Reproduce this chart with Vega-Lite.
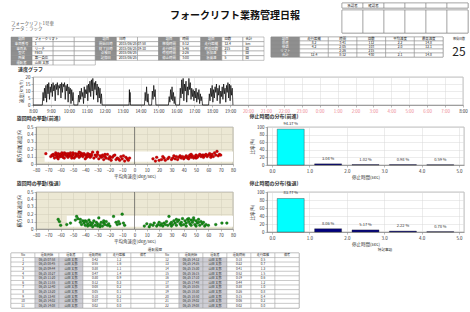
{
"$schema":"https://vega.github.io/schema/vega-lite/v6.json",
"background":"#ffffff",
"padding":{"left":10,"top":2,"right":0,"bottom":0},
"config":{
 "font":"Noto Sans CJK JP",
 "view":{"stroke":"#888","strokeWidth":0.6},
 "axis":{"labelFontSize":4.5,"titleFontSize":4.5,"titleFontWeight":"normal","tickSize":2,"labelPadding":1,"titlePadding":2,"domainColor":"#777","tickColor":"#777","gridColor":"#d9d9d9","gridWidth":0.5,"labelColor":"#333","titleColor":"#333","domainWidth":0.6,"tickWidth":0.5,"labelFlush":false},
 "title":{"fontSize":5,"anchor":"start","frame":"bounds","fontWeight":"bold","color":"#333"}
},
"datasets":{
 "speed":[{"h":8,"v":0},{"h":8.52,"v":0},{"h":8.56,"v":9},{"h":8.6,"v":3},{"h":8.64,"v":12},{"h":8.68,"v":5},{"h":8.72,"v":14},{"h":8.76,"v":2},{"h":8.8,"v":15},{"h":8.84,"v":8},{"h":8.88,"v":16},{"h":8.92,"v":4},{"h":8.96,"v":13},{"h":9,"v":9},{"h":9.04,"v":15},{"h":9.08,"v":6},{"h":9.12,"v":16},{"h":9.16,"v":10},{"h":9.2,"v":14},{"h":9.24,"v":3},{"h":9.28,"v":15},{"h":9.32,"v":11},{"h":9.36,"v":16},{"h":9.4,"v":7},{"h":9.44,"v":14},{"h":9.48,"v":12},{"h":9.52,"v":15},{"h":9.56,"v":5},{"h":9.6,"v":16},{"h":9.64,"v":9},{"h":9.68,"v":15},{"h":9.72,"v":13},{"h":9.76,"v":16},{"h":9.8,"v":4},{"h":9.84,"v":14},{"h":9.88,"v":10},{"h":9.92,"v":15},{"h":9.96,"v":2},{"h":10,"v":13},{"h":10.04,"v":8},{"h":10.08,"v":12},{"h":10.12,"v":1},{"h":10.16,"v":11},{"h":10.2,"v":3},{"h":10.24,"v":9},{"h":10.28,"v":0},
 {"h":10.5,"v":0},{"h":10.54,"v":7},{"h":10.58,"v":2},{"h":10.62,"v":10},{"h":10.66,"v":4},{"h":10.7,"v":12},{"h":10.74,"v":6},{"h":10.78,"v":9},{"h":10.82,"v":1},{"h":10.86,"v":13},{"h":10.9,"v":5},{"h":10.94,"v":11},{"h":10.98,"v":8},{"h":11.02,"v":14},{"h":11.06,"v":3},{"h":11.1,"v":15},{"h":11.14,"v":9},{"h":11.18,"v":17},{"h":11.22,"v":6},{"h":11.26,"v":18},{"h":11.3,"v":10},{"h":11.34,"v":19},{"h":11.38,"v":4},{"h":11.42,"v":16},{"h":11.46,"v":11},{"h":11.5,"v":17},{"h":11.54,"v":7},{"h":11.58,"v":15},{"h":11.62,"v":2},{"h":11.66,"v":13},{"h":11.7,"v":5},{"h":11.74,"v":12},{"h":11.78,"v":1},{"h":11.82,"v":8},{"h":11.86,"v":0},
 {"h":13.36,"v":0},{"h":13.38,"v":11},{"h":13.4,"v":2},{"h":13.42,"v":9},{"h":13.44,"v":0},
 {"h":14.22,"v":0},{"h":14.26,"v":9},{"h":14.3,"v":3},{"h":14.34,"v":13},{"h":14.38,"v":2},{"h":14.42,"v":8},{"h":14.46,"v":0},{"h":14.62,"v":0},{"h":14.66,"v":10},{"h":14.7,"v":4},{"h":14.74,"v":14},{"h":14.78,"v":6},{"h":14.82,"v":11},{"h":14.86,"v":0},
 {"h":15.56,"v":0},{"h":15.6,"v":6},{"h":15.64,"v":2},{"h":15.68,"v":11},{"h":15.72,"v":4},{"h":15.76,"v":13},{"h":15.8,"v":3},{"h":15.84,"v":9},{"h":15.88,"v":1},{"h":15.92,"v":6},{"h":15.96,"v":0},
 {"h":16.18,"v":0},{"h":16.22,"v":12},{"h":16.26,"v":5},{"h":16.3,"v":18},{"h":16.34,"v":8},{"h":16.38,"v":19},{"h":16.42,"v":3},{"h":16.46,"v":15},{"h":16.5,"v":10},{"h":16.54,"v":17},{"h":16.58,"v":2},{"h":16.62,"v":13},{"h":16.66,"v":7},{"h":16.7,"v":19},{"h":16.74,"v":11},{"h":16.78,"v":16},{"h":16.82,"v":4},{"h":16.86,"v":12},{"h":16.9,"v":6},{"h":16.94,"v":11},{"h":16.98,"v":3},{"h":17.02,"v":10},{"h":17.06,"v":5},{"h":17.1,"v":12},{"h":17.14,"v":2},{"h":17.18,"v":9},{"h":17.22,"v":4},{"h":17.26,"v":11},{"h":17.3,"v":1},{"h":17.34,"v":8},{"h":17.38,"v":3},{"h":17.42,"v":6},{"h":17.46,"v":0},
 {"h":17.8,"v":0},{"h":17.84,"v":8},{"h":17.88,"v":3},{"h":17.92,"v":12},{"h":17.96,"v":6},{"h":18,"v":14},{"h":18.04,"v":2},{"h":18.08,"v":11},{"h":18.12,"v":5},{"h":18.16,"v":13},{"h":18.2,"v":9},{"h":18.24,"v":15},{"h":18.28,"v":3},{"h":18.32,"v":12},{"h":18.36,"v":7},{"h":18.4,"v":14},{"h":18.44,"v":1},{"h":18.48,"v":10},{"h":18.52,"v":6},{"h":18.56,"v":13},{"h":18.6,"v":4},{"h":18.64,"v":15},{"h":18.68,"v":8},{"h":18.72,"v":12},{"h":18.76,"v":2},{"h":18.8,"v":14},{"h":18.84,"v":9},{"h":18.88,"v":16},{"h":18.92,"v":5},{"h":18.96,"v":15},{"h":19,"v":3},{"h":19.04,"v":14},{"h":19.08,"v":7},{"h":19.12,"v":12},{"h":19.16,"v":0}],
 "fwd":[{"x":-72,"y":0.14},{"x":-68,"y":0.10},{"x":-67,"y":0.12},{"x":-66,"y":0.13},{"x":-66,"y":0.11},{"x":-65,"y":0.08},{"x":-64,"y":0.15},{"x":-64,"y":0.12},{"x":-63,"y":0.11},{"x":-63,"y":0.09},{"x":-62,"y":0.07},{"x":-62,"y":0.14},{"x":-61,"y":0.13},{"x":-61,"y":0.10},{"x":-60,"y":0.10},{"x":-60,"y":0.13},{"x":-59,"y":0.15},{"x":-59,"y":0.11},{"x":-58,"y":0.12},{"x":-58,"y":0.09},{"x":-57,"y":0.08},{"x":-57,"y":0.15},{"x":-56,"y":0.14},{"x":-56,"y":0.12},{"x":-55,"y":0.11},{"x":-55,"y":0.13},{"x":-54,"y":0.09},{"x":-54,"y":0.14},{"x":-53,"y":0.13},{"x":-53,"y":0.11},{"x":-52,"y":0.15},{"x":-52,"y":0.12},{"x":-51,"y":0.10},{"x":-51,"y":0.08},{"x":-50,"y":0.12},{"x":-50,"y":0.15},{"x":-49,"y":0.08},{"x":-48,"y":0.14},{"x":-48,"y":0.10},{"x":-47,"y":0.11},{"x":-47,"y":0.13},{"x":-46,"y":0.13},{"x":-46,"y":0.12},{"x":-45,"y":0.09},{"x":-45,"y":0.16},{"x":-44,"y":0.15},{"x":-44,"y":0.11},{"x":-43,"y":0.12},{"x":-43,"y":0.14},{"x":-42,"y":0.10},{"x":-42,"y":0.13},{"x":-41,"y":0.14},{"x":-40,"y":0.07},{"x":-40,"y":0.12},{"x":-39,"y":0.12},{"x":-39,"y":0.09},{"x":-38,"y":0.10},{"x":-38,"y":0.14},{"x":-37,"y":0.13},{"x":-36,"y":0.09},{"x":-36,"y":0.12},{"x":-35,"y":0.11},{"x":-35,"y":0.13},{"x":-34,"y":0.16},{"x":-33,"y":0.08},{"x":-32,"y":0.12},{"x":-31,"y":0.10},{"x":-30,"y":0.13},{"x":-30,"y":0.16},{"x":-29,"y":0.07},{"x":-28,"y":0.11},{"x":-27,"y":0.09},{"x":-26,"y":0.12},{"x":-26,"y":0.10},{"x":-25,"y":0.06},{"x":-24,"y":0.10},{"x":-24,"y":0.13},{"x":-23,"y":0.08},{"x":-22,"y":0.13},{"x":-21,"y":0.07},{"x":-20,"y":0.10},{"x":-20,"y":0.08},{"x":-19,"y":0.05},{"x":-18,"y":0.09},{"x":-17,"y":0.11},{"x":-16,"y":0.12},{"x":-15,"y":0.06},{"x":-14,"y":0.08},{"x":-13,"y":0.07},{"x":-12,"y":0.05},{"x":-11,"y":0.10},{"x":-10,"y":0.07},{"x":-9,"y":0.11},{"x":-8,"y":0.04},{"x":-7,"y":0.09},{"x":-6,"y":0.07},{"x":-5,"y":0.05},{"x":-4,"y":0.08},
 {"x":15,"y":0.07},{"x":17,"y":0.04},{"x":18,"y":0.09},{"x":20,"y":0.05},{"x":22,"y":0.06},{"x":23,"y":0.10},{"x":24,"y":0.08},{"x":25,"y":0.05},{"x":27,"y":0.07},{"x":28,"y":0.09},{"x":30,"y":0.06},{"x":31,"y":0.08},{"x":32,"y":0.11},{"x":33,"y":0.07},{"x":34,"y":0.10},{"x":35,"y":0.06},{"x":36,"y":0.09},{"x":37,"y":0.11},{"x":38,"y":0.08},{"x":39,"y":0.10},{"x":40,"y":0.07},{"x":41,"y":0.09},{"x":42,"y":0.11},{"x":43,"y":0.08},{"x":44,"y":0.10},{"x":44,"y":0.07},{"x":45,"y":0.12},{"x":46,"y":0.09},{"x":46,"y":0.13},{"x":47,"y":0.11},{"x":48,"y":0.08},{"x":49,"y":0.10},{"x":50,"y":0.12},{"x":50,"y":0.08},{"x":51,"y":0.09},{"x":52,"y":0.11},{"x":53,"y":0.13},{"x":54,"y":0.10},{"x":55,"y":0.12},{"x":56,"y":0.09},{"x":56,"y":0.12},{"x":57,"y":0.11},{"x":58,"y":0.13},{"x":59,"y":0.10},{"x":60,"y":0.12},{"x":61,"y":0.14},{"x":62,"y":0.11},{"x":62,"y":0.09},{"x":63,"y":0.13},{"x":64,"y":0.10},{"x":65,"y":0.15},{"x":66,"y":0.12},{"x":67,"y":0.17},{"x":68,"y":0.11},{"x":69,"y":0.13},{"x":70,"y":0.12}],
 "bwd":[{"x":-62,"y":0.13},{"x":-61,"y":0.10},{"x":-60,"y":0.05},{"x":-55,"y":0.06},{"x":-52,"y":0.08},{"x":-48,"y":0.12},{"x":-47,"y":0.17},{"x":-46,"y":0.14},{"x":-44,"y":0.09},{"x":-44,"y":0.13},{"x":-43,"y":0.06},{"x":-42,"y":0.11},{"x":-41,"y":0.08},{"x":-40,"y":0.05},{"x":-40,"y":0.11},{"x":-39,"y":0.10},{"x":-38,"y":0.07},{"x":-38,"y":0.04},{"x":-37,"y":0.12},{"x":-36,"y":0.09},{"x":-36,"y":0.05},{"x":-35,"y":0.06},{"x":-34,"y":0.08},{"x":-34,"y":0.03},{"x":-33,"y":0.11},{"x":-32,"y":0.05},{"x":-31,"y":0.09},{"x":-30,"y":0.07},{"x":-30,"y":0.04},{"x":-29,"y":0.15},{"x":-28,"y":0.06},{"x":-28,"y":0.03},{"x":-27,"y":0.09},{"x":-26,"y":0.04},{"x":-25,"y":0.08},{"x":-25,"y":0.11},{"x":-24,"y":0.06},{"x":-23,"y":0.10},{"x":-22,"y":0.05},{"x":-21,"y":0.07},{"x":-20,"y":0.04},{"x":-17,"y":0.17},{"x":-15,"y":0.09},{"x":-14,"y":0.06},{"x":-13,"y":0.10},{"x":-12,"y":0.07},{"x":-10,"y":0.20},{"x":-9,"y":0.08},{"x":-8,"y":0.05},
 {"x":8,"y":0.04},{"x":10,"y":0.07},{"x":12,"y":0.03},{"x":13,"y":0.06},{"x":15,"y":0.05},{"x":16,"y":0.08},{"x":18,"y":0.04},{"x":19,"y":0.06},{"x":20,"y":0.09},{"x":21,"y":0.05},{"x":22,"y":0.07},{"x":23,"y":0.04},{"x":24,"y":0.08},{"x":25,"y":0.06},{"x":26,"y":0.10},{"x":27,"y":0.05},{"x":28,"y":0.17},{"x":29,"y":0.07},{"x":30,"y":0.09},{"x":30,"y":0.04},{"x":31,"y":0.06},{"x":32,"y":0.11},{"x":33,"y":0.08},{"x":34,"y":0.05},{"x":34,"y":0.13},{"x":35,"y":0.10},{"x":36,"y":0.12},{"x":37,"y":0.07},{"x":38,"y":0.09},{"x":38,"y":0.05},{"x":39,"y":0.14},{"x":40,"y":0.06},{"x":41,"y":0.11},{"x":42,"y":0.08},{"x":42,"y":0.04},{"x":43,"y":0.13},{"x":44,"y":0.10},{"x":44,"y":0.14},{"x":45,"y":0.07},{"x":46,"y":0.12},{"x":46,"y":0.05},{"x":47,"y":0.09},{"x":48,"y":0.15},{"x":48,"y":0.12},{"x":49,"y":0.06},{"x":50,"y":0.11},{"x":50,"y":0.04},{"x":51,"y":0.08},{"x":52,"y":0.13},{"x":52,"y":0.09},{"x":53,"y":0.05},{"x":54,"y":0.10},{"x":55,"y":0.07},{"x":56,"y":0.09},{"x":57,"y":0.04},{"x":58,"y":0.06},{"x":60,"y":0.05},{"x":66,"y":0.06},{"x":71,"y":0.08},{"x":75,"y":0.08}]
},
"concat":[
 {"concat":[
 {"concat":[
  {"width":320,"height":28,"view":{"stroke":null},"layer":[
   {"data":{"values":[{"t":"フォークリフト業務管理日報"}]},"mark":{"type":"text","fontSize":10,"fontWeight":"bold","dx":64,"dy":-1,"color":"#111"},"encoding":{"text":{"field":"t"}}},
   {"data":{"values":[{"line":1,"t":"フォークリフト1号車"},{"line":2,"t":"データ：ラック"}]},"mark":{"type":"text","fontSize":4.5,"align":"left","color":"#555"},"encoding":{"x":{"datum":0,"type":"quantitative","scale":{"domain":[0,1]},"axis":null},"y":{"field":"line","type":"quantitative","scale":{"domain":[-3,2.4],"reverse":true},"axis":null},"text":{"field":"t"}}}
  ]},
  {"concat":[
   {"width":126,"height":5,"data":{"values":[{"c":1,"t":"承認者"},{"c":2,"t":"確認者"},{"c":3,"t":""},{"c":4,"t":""},{"c":5,"t":""},{"c":6,"t":""}]},
    "encoding":{"x":{"field":"c","type":"ordinal","scale":{"type":"band","paddingInner":0,"paddingOuter":0},"axis":null}},
    "layer":[{"mark":{"type":"rect","fill":"#ffffff","stroke":"#777","strokeWidth":0.5}},{"mark":{"type":"text","fontSize":3.5,"color":"#333"},"encoding":{"text":{"field":"t"}}}]},
   {"width":126,"height":23,"data":{"values":[{"c":1},{"c":2},{"c":3},{"c":4},{"c":5},{"c":6}]},"mark":{"type":"rect","fill":"#ffffff","stroke":"#777","strokeWidth":0.5},"encoding":{"x":{"field":"c","type":"ordinal","scale":{"type":"band","paddingInner":0,"paddingOuter":0},"axis":null}}}
  ],"columns":1,"spacing":0,"align":"none"}
 ],"columns":2,"spacing":10,"align":"none"},

 {"concat":[
  {"width":253,"height":28,"view":{"stroke":null},
   "data":{"values":[
    {"r":0,"c0":"項目","c1":"フォークリフト","c2":"","c3":"","c4":"項目","c5":"日時","c6":"","c7":"項目","c8":"時間","c9":"項目","c10":"回数","c11":"合計"},
    {"r":1,"c0":"車両番号","c1":"1","c2":"","c3":"","c4":"開始日時","c5":"2015/06/25 07:58","c6":"","c7":"稼働時間","c8":"8:12","c9":"走行距離","c10":"12.4","c11":"km"},
    {"r":2,"c0":"車両名","c1":"リーチ","c2":"","c3":"","c4":"終了日時","c5":"2015/06/25 19:10","c6":"","c7":"走行時間","c8":"5:46","c9":"荷役回数","c10":"215","c11":"回"},
    {"r":3,"c0":"型式","c1":"FB15","c2":"","c3":"","c4":"点検日","c5":"2015/06/25","c6":"","c7":"荷役時間","c8":"2:26","c9":"急加速","c10":"3","c11":"回"},
    {"r":4,"c0":"所属","c1":"第一倉庫","c2":"","c3":"","c4":"記録日","c5":"2015/06/25","c6":"","c7":"停止時間","c8":"3:00","c9":"急減速","c10":"5","c11":"回"},
    {"r":5,"c0":"運転者","c1":"山田 太郎","c2":"","c3":"","c4":"","c5":"","c6":"","c7":"","c8":"","c9":"","c10":"","c11":""}]},
   "transform":[{"fold":["c0","c1","c2","c3","c4","c5","c6","c7","c8","c9","c10","c11"],"as":["key","val"]}],
   "encoding":{
    "x":{"field":"key","type":"nominal","scale":{"type":"band","domain":["c0","c1","c2","c3","c4","c5","c6","c7","c8","c9","c10","c11"],"paddingInner":0,"paddingOuter":0},"axis":null},
    "y":{"field":"r","type":"ordinal","scale":{"type":"band","paddingInner":0,"paddingOuter":0},"axis":null}},
   "layer":[
    {"transform":[{"filter":"datum.r<5||datum.key=='c0'||datum.key=='c1'||datum.key=='c2'||datum.key=='c3'"}],"mark":{"type":"rect","stroke":"#888","strokeWidth":0.5},
     "encoding":{"fill":{"condition":{"test":"datum.key=='c0'||((datum.key=='c4'||datum.key=='c7'||datum.key=='c9')&&datum.r<5)","value":"#8f8f8f"},"value":"#ffffff"}}},
    {"transform":[{"filter":"datum.key=='c0'||((datum.key=='c4'||datum.key=='c7'||datum.key=='c9')&&datum.r<5)"}],"mark":{"type":"text","fontSize":3.4,"color":"#ffffff"},"encoding":{"text":{"field":"val"}}},
    {"transform":[{"filter":"!(datum.key=='c0'||((datum.key=='c4'||datum.key=='c7'||datum.key=='c9')&&datum.r<5))"}],"mark":{"type":"text","fontSize":3.4,"color":"#222","align":"left","dx":-8},"encoding":{"text":{"field":"val"}}}
   ]},
  {"width":172,"height":20,
   "data":{"values":[
    {"r":0,"d0":"項目","d1":"走行距離","d2":"時間","d3":"回数","d4":"平均速度","d5":"最高速度"},
    {"r":1,"d0":"前進","d1":"8.2","d2":"3:41","d3":"112","d4":"2.2","d5":"14.8"},
    {"r":2,"d0":"後退","d1":"4.2","d2":"2:05","d3":"103","d4":"2.0","d5":"12.1"},
    {"r":3,"d0":"リフト","d1":"-","d2":"2:26","d3":"215","d4":"-","d5":"-"},
    {"r":4,"d0":"合計","d1":"12.4","d2":"8:12","d3":"430","d4":"2.1","d5":"14.8"}]},
   "transform":[{"fold":["d0","d1","d2","d3","d4","d5"],"as":["key","val"]}],
   "encoding":{
    "x":{"field":"key","type":"nominal","scale":{"type":"band","domain":["d0","d1","d2","d3","d4","d5"],"paddingInner":0,"paddingOuter":0},"axis":null},
    "y":{"field":"r","type":"ordinal","scale":{"type":"band","paddingInner":0,"paddingOuter":0},"axis":null}},
   "layer":[
    {"mark":{"type":"rect","stroke":"#888","strokeWidth":0.5},"encoding":{"fill":{"condition":{"test":"datum.key=='d0'","value":"#8f8f8f"},"value":"#ffffff"}}},
    {"transform":[{"filter":"datum.key=='d0'"}],"mark":{"type":"text","fontSize":3.4,"color":"#ffffff"},"encoding":{"text":{"field":"val"}}},
    {"transform":[{"filter":"datum.key!='d0'"}],"mark":{"type":"text","fontSize":3.4,"color":"#222"},"encoding":{"text":{"field":"val"}}}
   ]},
  {"concat":[
   {"width":20,"height":4,"data":{"values":[{"t":"稼働日数"}]},"mark":{"type":"text","fontSize":3,"color":"#333"},"encoding":{"text":{"field":"t"}}},
   {"width":20,"height":22,"data":{"values":[{"t":"25"}]},"mark":{"type":"text","fontSize":12,"color":"#222"},"encoding":{"text":{"field":"t"}}}
  ],"columns":1,"spacing":0,"align":"none"}
 ],"columns":3,"spacing":5,"align":"none"}
 ],"columns":1,"spacing":2,"align":"none"},

 {"concat":[
  {"width":1,"height":1,"view":{"stroke":null},"data":{"values":[{"t":""}]},"mark":{"type":"text"},"encoding":{"text":{"field":"t"}}},
  {"width":430,"height":28,
   "title":{"text":"速度グラフ","offset":2},
   "data":{"name":"speed"},
   "mark":{"type":"line","color":"#000000","strokeWidth":0.7},
   "encoding":{
    "x":{"field":"h","type":"quantitative","scale":{"domain":[8,32],"nice":false},"axis":{"values":[8,9,10,11,12,13,14,15,16,17,18,19,20,21,22,23,24,25,26,27,28,29,30,31,32],"labelExpr":"(datum.value % 24) + ':00'","labelColor":{"condition":{"test":"datum.value >= 20 && datum.value < 32","value":"#ee8a95"},"value":"#333"},"grid":true,"title":null,"labelOverlap":false}},
    "y":{"field":"v","type":"quantitative","scale":{"domain":[0,20],"nice":false},"axis":{"values":[0,5,10,15,20],"title":"速度(km/h)","grid":true,"titlePadding":2}}
   }}
 ],"columns":2,"spacing":5,"align":"none"},

 {"concat":[
  {"width":1,"height":1,"view":{"stroke":null},"data":{"values":[{"t":""}]},"mark":{"type":"text"},"encoding":{"text":{"field":"t"}}},
  {"width":197,"height":37,
   "title":{"text":"旋回時の挙動(前進)","offset":3},
   "view":{"fill":"#ECE8D4","stroke":"#888"},
   "encoding":{"x":{"field":"x","type":"quantitative","scale":{"domain":[-80,80],"nice":false},"axis":{"values":[-80,-70,-60,-50,-40,-30,-20,-10,0,10,20,30,40,50,60,70,80],"title":"平均角速度(deg/sec)","grid":true,"gridColor":"#d3cfba","labelOverlap":false}},
     "y":{"field":"y","type":"quantitative","scale":{"domain":[0,0.5],"nice":false},"axis":{"values":[0,0.1,0.2,0.3,0.4,0.5],"labelExpr":"datum.value == 0 ? '0' : format(datum.value, '.1f')","title":"横方向加速度(G)","grid":true,"gridColor":"#d3cfba","titlePadding":5}}},
   "layer":[
    {"data":{"values":[{"x":-73,"xe":80,"y":0.03,"ye":0.17}]},"mark":{"type":"rect","fill":"#ffffff"},"encoding":{"x2":{"field":"xe"},"y2":{"field":"ye"}}},
    {"data":{"values":[{"x":0,"y":0,"ye":0.5}]},"mark":{"type":"rule","color":"#444","strokeWidth":0.6},"encoding":{"y2":{"field":"ye"}}},
    {"data":{"name":"fwd"},"mark":{"type":"circle","size":8,"color":"#d10000","stroke":"#8a0000","strokeWidth":0.3,"opacity":1}}
   ]},
  {"width":5,"height":1,"view":{"stroke":null},"data":{"values":[{"t":""}]},"mark":{"type":"text"},"encoding":{"text":{"field":"t"}}},
  {"width":197,"height":38,
   "title":{"text":"停止時間の分布(前進)","offset":3},
   "data":{"values":[{"mid":0.5,"pct":94.37,"lab":"94.37 %"},{"mid":1.5,"pct":3.04,"lab":"3.04 %"},{"mid":2.5,"pct":1.02,"lab":"1.02 %"},{"mid":3.5,"pct":0.98,"lab":"0.98 %"},{"mid":4.5,"pct":0.59,"lab":"0.59 %"}]},
   "encoding":{"x":{"field":"mid","type":"quantitative","scale":{"domain":[0,5],"nice":false},"axis":{"values":[0,1,2,3,4,5],"format":".1f","title":"停止時間(sec)","grid":true,"labelOverlap":false}},
      "y":{"field":"pct","type":"quantitative","scale":{"domain":[0,100],"nice":false},"axis":{"values":[0,20,40,60,80,100],"title":"比率(%)","grid":true,"titlePadding":2}}},
   "layer":[
    {"mark":{"type":"bar","size":27,"orient":"vertical","stroke":"#333","strokeWidth":0.4},
     "encoding":{"color":{"condition":{"test":"datum.mid < 1","value":"#00FFFF"},"value":"#000080"}}},
    {"mark":{"type":"text","fontSize":4,"dy":-5,"color":"#333"},"encoding":{"text":{"field":"lab"}}}
   ]}
 ],"columns":4,"spacing":4,"align":"none"},

 {"concat":[
  {"width":1,"height":1,"view":{"stroke":null},"data":{"values":[{"t":""}]},"mark":{"type":"text"},"encoding":{"text":{"field":"t"}}},
  {"width":197,"height":37,
   "title":{"text":"旋回時の挙動(後退)","offset":3},
   "view":{"fill":"#ECE8D4","stroke":"#888"},
   "encoding":{"x":{"field":"x","type":"quantitative","scale":{"domain":[-80,80],"nice":false},"axis":{"values":[-80,-70,-60,-50,-40,-30,-20,-10,0,10,20,30,40,50,60,70,80],"title":"平均角速度(deg/sec)","grid":true,"gridColor":"#d3cfba","labelOverlap":false}},
     "y":{"field":"y","type":"quantitative","scale":{"domain":[0,0.5],"nice":false},"axis":{"values":[0,0.1,0.2,0.3,0.4,0.5],"labelExpr":"datum.value == 0 ? '0' : format(datum.value, '.1f')","title":"横方向加速度(G)","grid":true,"gridColor":"#d3cfba","titlePadding":5}}},
   "layer":[
    {"data":{"values":[{"x":-55,"xe":80,"y":0.03,"ye":0.18}]},"mark":{"type":"rect","fill":"#ffffff"},"encoding":{"x2":{"field":"xe"},"y2":{"field":"ye"}}},
    {"data":{"values":[{"x":0,"y":0,"ye":0.5}]},"mark":{"type":"rule","color":"#444","strokeWidth":0.6},"encoding":{"y2":{"field":"ye"}}},
    {"data":{"name":"bwd"},"mark":{"type":"circle","size":8,"color":"#178a17","stroke":"#0b5a0b","strokeWidth":0.3,"opacity":1}}
   ]},
  {"width":5,"height":1,"view":{"stroke":null},"data":{"values":[{"t":""}]},"mark":{"type":"text"},"encoding":{"text":{"field":"t"}}},
  {"width":197,"height":40,
   "title":{"text":"停止時間の分布(後退)","offset":3},
   "data":{"values":[{"mid":0.5,"pct":83.77,"lab":"83.77 %"},{"mid":1.5,"pct":8.06,"lab":"8.06 %"},{"mid":2.5,"pct":5.17,"lab":"5.17 %"},{"mid":3.5,"pct":2.22,"lab":"2.22 %"},{"mid":4.5,"pct":0.78,"lab":"0.78 %"}]},
   "encoding":{"x":{"field":"mid","type":"quantitative","scale":{"domain":[0,5],"nice":false},"axis":{"values":[0,1,2,3,4,5],"format":".1f","title":"停止時間(sec)","grid":true,"labelOverlap":false}},
      "y":{"field":"pct","type":"quantitative","scale":{"domain":[0,100],"nice":false},"axis":{"values":[0,20,40,60,80,100],"title":"比率(%)","grid":true,"titlePadding":2}}},
   "layer":[
    {"mark":{"type":"bar","size":27,"orient":"vertical","stroke":"#333","strokeWidth":0.4},
     "encoding":{"color":{"condition":{"test":"datum.mid < 1","value":"#00FFFF"},"value":"#000080"}}},
    {"mark":{"type":"text","fontSize":4,"dy":-5,"color":"#333"},"encoding":{"text":{"field":"lab"}}}
   ]}
 ],"columns":4,"spacing":4,"align":"none"},

 {"concat":[
  {"width":288,"height":55,
   "title":{"text":"運転履歴","fontSize":3.6,"fontWeight":"normal","anchor":"middle","frame":"group","offset":1},
   "data":{"values":[
     {"r":0,"no":"No","dt":"運転開始","drv":"運転者","tm":"運転時間","km":"走行距離","bk":"備考","no2":"No","dt2":"運転開始","drv2":"運転者","tm2":"運転時間","km2":"走行距離","bk2":"備考"},
     {"r":1,"no":"1","dt":"06/25 07:58","drv":"山田 太郎","tm":"0:42","km":"1.2","bk":"","no2":"12","dt2":"06/25 14:12","drv2":"山田 太郎","tm2":"0:18","km2":"0.5","bk2":""},
     {"r":2,"no":"2","dt":"06/25 08:45","drv":"山田 太郎","tm":"0:55","km":"1.6","bk":"","no2":"13","dt2":"06/25 14:35","drv2":"山田 太郎","tm2":"0:22","km2":"0.7","bk2":""},
     {"r":3,"no":"3","dt":"06/25 09:44","drv":"山田 太郎","tm":"0:38","km":"1.1","bk":"","no2":"14","dt2":"06/25 15:30","drv2":"山田 太郎","tm2":"0:41","km2":"1.3","bk2":""},
     {"r":4,"no":"4","dt":"06/25 10:27","drv":"山田 太郎","tm":"0:47","km":"1.4","bk":"","no2":"15","dt2":"06/25 16:15","drv2":"山田 太郎","tm2":"0:52","km2":"1.5","bk2":""},
     {"r":5,"no":"5","dt":"06/25 11:20","drv":"山田 太郎","tm":"0:30","km":"0.9","bk":"","no2":"16","dt2":"06/25 17:10","drv2":"山田 太郎","tm2":"0:19","km2":"0.6","bk2":""},
     {"r":6,"no":"6","dt":"06/25 11:55","drv":"山田 太郎","tm":"0:12","km":"0.3","bk":"","no2":"17","dt2":"06/25 17:48","drv2":"山田 太郎","tm2":"0:44","km2":"1.2","bk2":""},
     {"r":7,"no":"7","dt":"06/25 12:40","drv":"山田 太郎","tm":"0:08","km":"0.2","bk":"","no2":"18","dt2":"06/25 18:05","drv2":"山田 太郎","tm2":"0:38","km2":"1.0","bk2":""},
     {"r":8,"no":"8","dt":"06/25 13:20","drv":"山田 太郎","tm":"0:05","km":"0.1","bk":"","no2":"19","dt2":"06/25 18:30","drv2":"山田 太郎","tm2":"0:26","km2":"0.8","bk2":""},
     {"r":9,"no":"9","dt":"06/25 13:48","drv":"山田 太郎","tm":"0:10","km":"0.2","bk":"","no2":"20","dt2":"06/25 18:50","drv2":"山田 太郎","tm2":"0:15","km2":"0.4","bk2":""},
     {"r":10,"no":"10","dt":"06/25 14:02","drv":"山田 太郎","tm":"0:07","km":"0.1","bk":"","no2":"21","dt2":"06/25 19:02","drv2":"山田 太郎","tm2":"0:06","km2":"0.2","bk2":""},
     {"r":11,"no":"11","dt":"06/25 14:08","drv":"山田 太郎","tm":"0:02","km":"0.0","bk":"","no2":"22","dt2":"06/25 19:08","drv2":"山田 太郎","tm2":"0:02","km2":"0.0","bk2":""}]},
   "transform":[{"fold":["no","dt","drv","tm","km","bk","no2","dt2","drv2","tm2","km2","bk2"],"as":["key","val"]}],
   "encoding":{
    "x":{"field":"key","type":"nominal","scale":{"type":"band","domain":["no","dt","drv","tm","km","bk","no2","dt2","drv2","tm2","km2","bk2"],"paddingInner":0,"paddingOuter":0},"axis":null},
    "y":{"field":"r","type":"ordinal","scale":{"type":"band","paddingInner":0,"paddingOuter":0},"axis":null}},
   "layer":[
    {"mark":{"type":"rect","stroke":"#999","strokeWidth":0.4},"encoding":{"fill":{"condition":{"test":"(datum.key=='dt'||datum.key=='drv'||datum.key=='dt2'||datum.key=='drv2')&&datum.r>0","value":"#cfcfd6"},"value":"#ffffff"}}},
    {"mark":{"type":"text","fontSize":3.1,"color":"#333"},"encoding":{"text":{"field":"val"}}}
   ]},
  {"width":166,"height":55,
   "title":{"text":"特記事項","fontSize":3.6,"fontWeight":"normal","anchor":"middle","frame":"group","offset":1},
   "data":{"values":[{"t":""}]},"mark":{"type":"text","fontSize":3.6},"encoding":{"text":{"field":"t"}}}
 ],"columns":2,"spacing":2,"align":"none"}
],
"columns":1,"spacing":0,"align":"none"
}
